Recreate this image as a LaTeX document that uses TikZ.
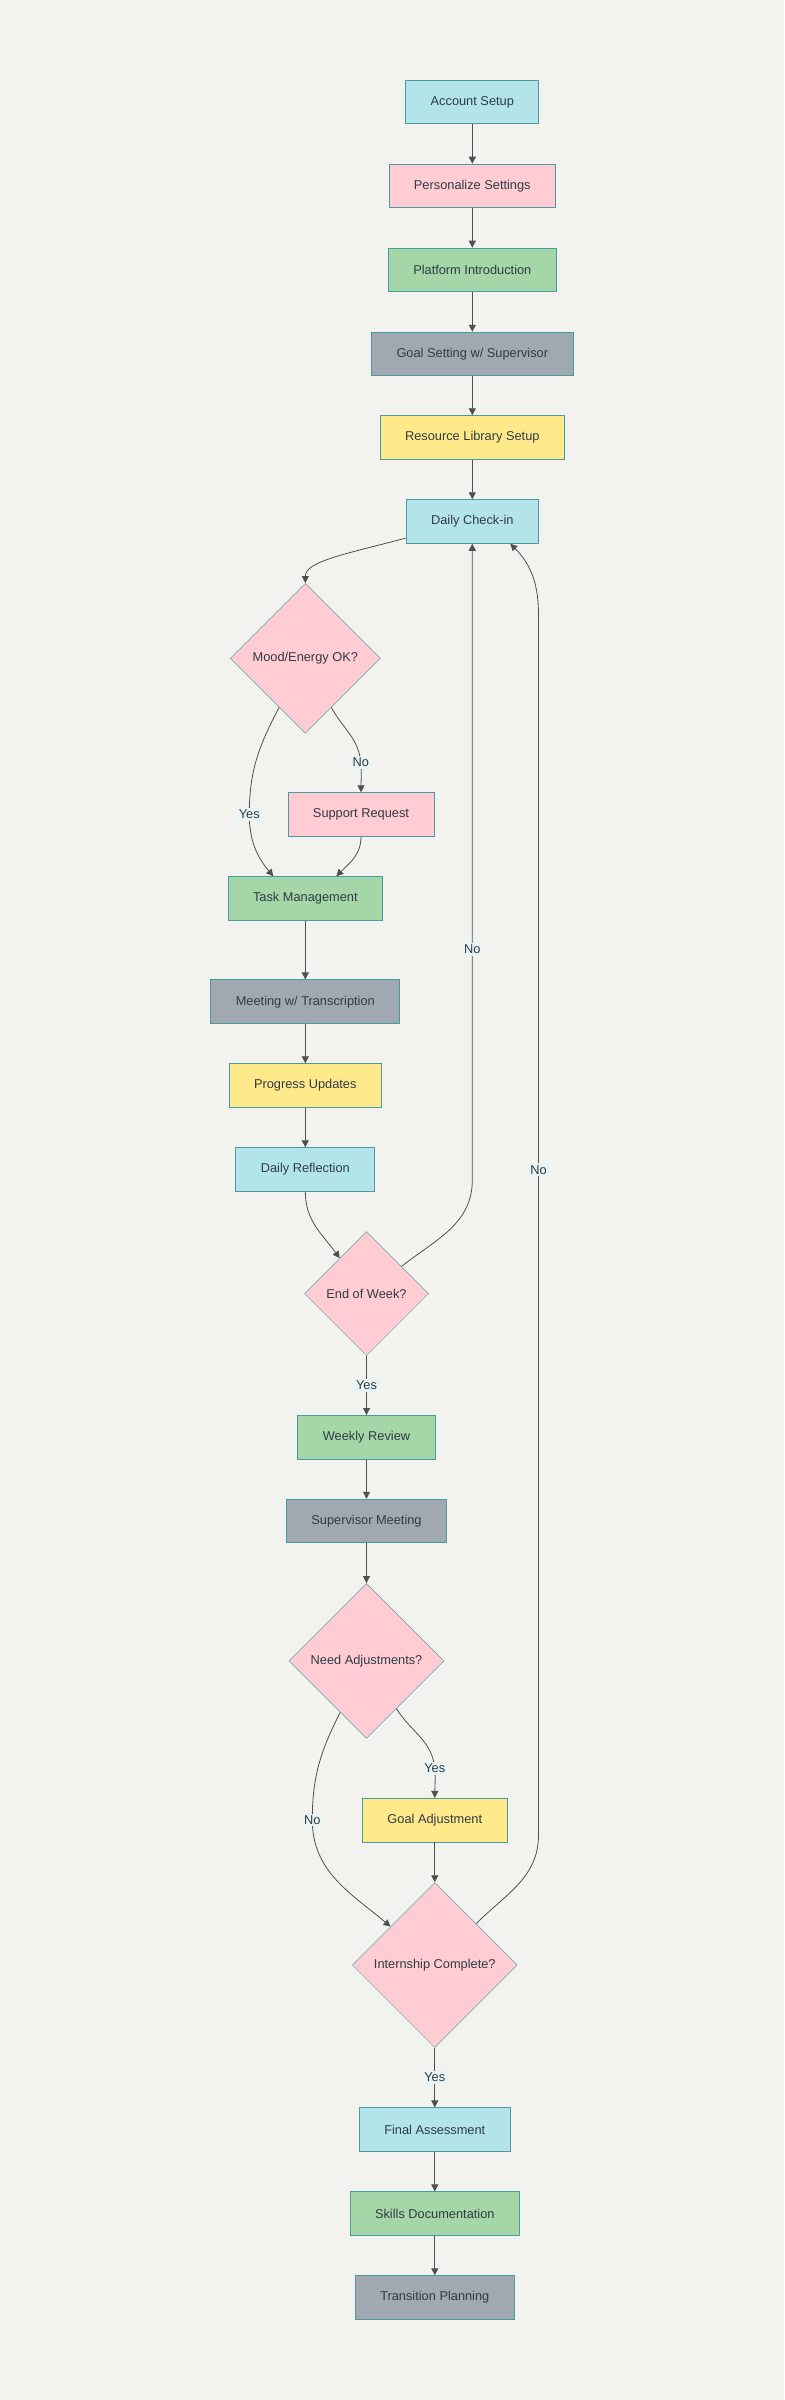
\documentclass[tikz,border=0pt]{standalone}
\usepackage{fontspec}
\setmainfont{Liberation Sans}
\usepackage{xcolor}
\usepackage{tikz}
\usetikzlibrary{arrows.meta,shapes.geometric}
\definecolor{pagebg}{HTML}{F2F3EE}
\definecolor{stepcyan}{HTML}{B2E4EA}
\definecolor{steppink}{HTML}{FFCCD3}
\definecolor{stepgreen}{HTML}{A5D6A7}
\definecolor{stepgray}{HTML}{A0A8B1}
\definecolor{stepyellow}{HTML}{FFE98A}
\definecolor{rimteal}{HTML}{4A9AA2}
\definecolor{labeltxt}{HTML}{2E3D45}
\definecolor{wire}{HTML}{4F4F4F}
\definecolor{tagbg}{HTML}{E8F3F4}

\begin{document}
\begin{tikzpicture}[x=1pt,y=1pt,font=\fontsize{12.8pt}{15pt}\selectfont,
      proc/.style={draw=rimteal,line width=0.9pt,inner xsep=25pt,minimum height=43.6pt,text=labeltxt},
      decide/.style={diamond,aspect=1,draw=rimteal!90,line width=0.5pt,fill=steppink,minimum size=#1,inner sep=0pt,text=labeltxt},
      arr/.style={-{Triangle[length=7pt,width=7pt]},draw=wire,line width=0.8pt},
      tag/.style={fill=tagbg,inner sep=2pt,text=labeltxt}]
    % page
    \fill[pagebg] (0,0) rectangle (784,-2400);
    \useasboundingbox (0,0) rectangle (784,-2400);
    % onboarding
    \node[proc,fill=stepcyan] (acct) at (472.3,-102) {Account Setup};
    \node[proc,fill=steppink] (pers) at (472.3,-186) {Personalize Settings};
    \node[proc,fill=stepgreen] (plat) at (472.3,-270) {Platform Introduction};
    \node[proc,fill=stepgray] (goalset) at (472.3,-354) {Goal Setting w/ Supervisor};
    \node[proc,fill=stepyellow] (reslib) at (472.3,-437.5) {Resource Library Setup};
    \node[proc,fill=stepcyan] (checkin) at (472.3,-521.5) {Daily Check-in};
    % daily loop
    \node[decide=150] (mood) at (305.3,-658.3) {Mood/Energy OK?};
    \node[proc,fill=steppink] (support) at (361,-814.5) {Support Request};
    \node[proc,fill=stepgreen] (task) at (305.3,-898.5) {Task Management};
    \node[proc,fill=stepgray] (meeting) at (305.3,-1001.7) {Meeting w/ Transcription};
    \node[proc,fill=stepyellow] (progress) at (305.3,-1085.5) {Progress Updates};
    \node[proc,fill=stepcyan] (reflect) at (305.3,-1169.5) {Daily Reflection};
    \node[decide=124] (eow) at (366.5,-1293.7) {End of Week?};
    % weekly loop
    \node[proc,fill=stepgreen] (weekly) at (366.5,-1437.3) {Weekly Review};
    \node[proc,fill=stepgray] (supmeet) at (366.5,-1521) {Supervisor Meeting};
    \node[decide=155] (needadj) at (366.5,-1660.8) {Need Adjustments?};
    \node[proc,fill=stepyellow] (goaladj) at (434.8,-1820.2) {Goal Adjustment};
    \node[decide=165] (done) at (434.8,-1965) {Internship Complete?};
    % wrap-up
    \node[proc,fill=stepcyan] (final) at (434.8,-2129.7) {Final Assessment};
    \node[proc,fill=stepgreen] (skills) at (434.8,-2213.7) {Skills Documentation};
    \node[proc,fill=stepgray] (trans) at (434.8,-2297.5) {Transition Planning};
    % straight links
    \foreach \a/\b in {acct/pers,pers/plat,plat/goalset,goalset/reslib,reslib/checkin,
        task/meeting,meeting/progress,progress/reflect,weekly/supmeet,supmeet/needadj,
        goaladj/done,final/skills,skills/trans} {
      \draw[arr] (\a) -- (\b);
    }
    % curved links
    \draw[arr] (checkin.194) to[out=195,in=90,out distance=60pt,in distance=22pt] (mood.north);
    \draw[arr] (mood.242) to[out=-118,in=90] (249.3,-814.3) node[tag] {Yes}
      to[out=-90,in=130] ([xshift=-32pt]task.north);
    \draw[arr] (mood.298) to[out=-62,in=95] (360.7,-762.3) node[tag] {No}
      to[out=-85,in=90] (support.north);
    \draw[arr] (support.south) to[out=-90,in=45] ([xshift=31pt]task.north);
    \draw[arr] (reflect.south) to[out=-90,in=126] (eow.127);
    \draw[arr] (eow.38) to[out=38,in=-90] (472.3,-1180) -- (472.3,-949.4) node[tag] {No}
      -- (checkin.south);
    \draw[arr] (eow) -- node[tag] {Yes} (weekly);
    \draw[arr] (needadj.302) to[out=-58,in=95] (434.7,-1768.3) node[tag] {Yes}
      to[out=-85,in=90] (goaladj.north);
    \draw[arr] (needadj.243) to[out=-117,in=90] (312.3,-1820) node[tag] {No}
      to[out=-90,in=140] (done.139);
    \draw[arr] (done.45) to[out=45,in=-90] (538.5,-1835) -- (538.5,-1169.7) node[tag] {No}
      -- (538.5,-615) to[out=90,in=-45] ([xshift=38pt]checkin.south);
    \draw[arr] (done) -- node[tag] {Yes} (final);
  \end{tikzpicture}
\end{document}
